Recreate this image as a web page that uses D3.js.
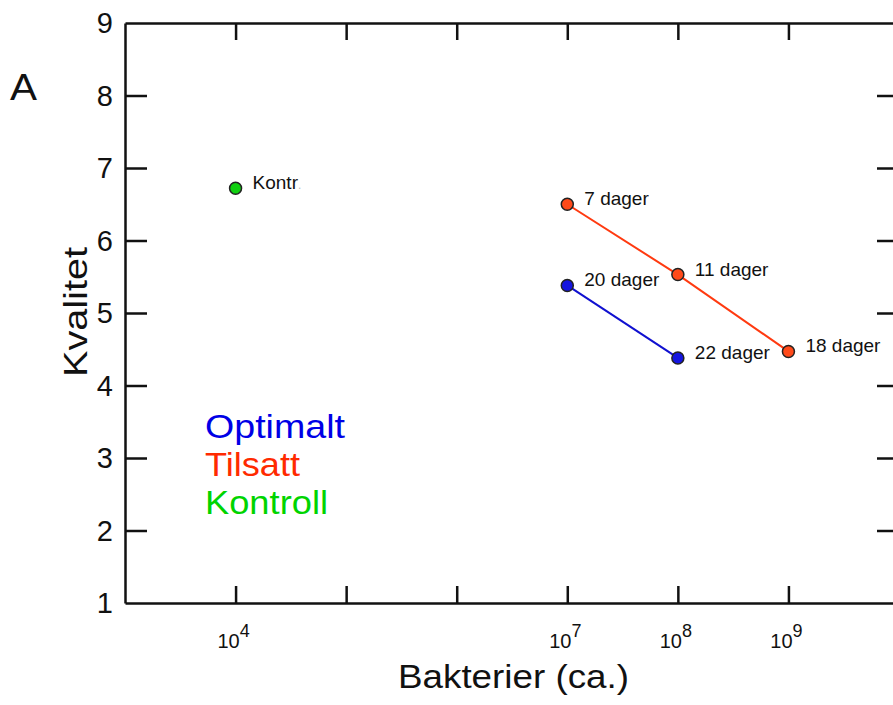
<!DOCTYPE html>
<html>
<head>
<meta charset="utf-8">
<script src="https://cdn.jsdelivr.net/npm/d3@7"></script>
<style>
  body { margin: 0; background: #fff; }
  text { font-family: Arial, "Liberation Sans", sans-serif; }
</style>
</head>
<body>
<div id="chart"></div>
<script>
// Svg Dimensions
var svgWidth = 893;
var svgHeight = 705;

// Plot box edges
var margin = { top: 23, right: -6, bottom: 102, left: 125 };
var chartWidth = svgWidth - margin.left - margin.right;
var chartHeight = svgHeight - margin.top - margin.bottom;

// Data
var optimaltX = [1e7, 1e8];
var optimaltY = [5.38, 4.38];
var optimaltLabels = ["20 dager", "22 dager"];

var tilsattX = [1e7, 1e8, 1e9];
var tilsattY = [6.5, 5.53, 4.47];
var tilsattLabels = ["7 dager", "11 dager", "18 dager"];

var kontrollX = [1e4];
var kontrollY = [6.72];
var kontrollLabels = ["Kontr"];

var xTickValues = [1e4, 1e5, 1e6, 1e7, 1e8, 1e9];
var xTickLabels = [4, null, null, 7, 8, 9];   // exponents shown
var yTickValues = [1, 2, 3, 4, 5, 6, 7, 8, 9];

var legendNames = ["Optimalt", "Tilsatt", "Kontroll"];
var legendColors = ["#0000e6", "#ff2a00", "#00d400"];
var legendLengths = [140, 95, 123];

var svg = d3.select("#chart").append("svg")
    .attr("width", svgWidth)
    .attr("height", svgHeight);

var g = svg.append("g")
    .attr("transform", `translate(${margin.left}, ${margin.top})`);

// Scales
var x = d3.scaleLog().domain([1e3, 1e10]).range([0, chartWidth]);
var y = d3.scaleLinear().domain([1, 9]).range([chartHeight, 0]);

// Axes (ticks point inward)
function styleAxis(sel) {
    sel.selectAll("path").attr("stroke", "#111").attr("stroke-width", 2.5);
    sel.selectAll("line").attr("stroke", "#111").attr("stroke-width", 2.5);
}

var bottomAxis = g.append("g")
    .attr("transform", `translate(0, ${chartHeight})`)
    .call(d3.axisBottom(x).tickValues(xTickValues).tickSize(-17).tickSizeOuter(0).tickFormat(""));
styleAxis(bottomAxis);

var topAxis = g.append("g")
    .call(d3.axisTop(x).tickValues(xTickValues).tickSize(-17).tickSizeOuter(0).tickFormat(""));
styleAxis(topAxis);

var leftAxis = g.append("g")
    .call(d3.axisLeft(y).tickValues(yTickValues.slice(1, -1)).tickSize(-22).tickSizeOuter(0).tickFormat(""));
styleAxis(leftAxis);

var rightAxis = g.append("g")
    .attr("transform", `translate(${chartWidth}, 0)`)
    .call(d3.axisRight(y).tickValues(yTickValues.slice(1, -1)).tickSize(-22).tickSizeOuter(0).tickFormat(""));
styleAxis(rightAxis);

// Y tick labels
g.selectAll(".ylab")
    .data(yTickValues)
    .enter()
    .append("text")
    .attr("x", -12)
    .attr("y", d => y(d))
    .attr("dy", "0.36em")
    .attr("text-anchor", "end")
    .attr("font-size", "29px")
    .attr("fill", "#111")
    .text(d => d);

// X tick labels as 10^n
var xLab = g.selectAll(".xlab")
    .data(xTickValues.map((v, i) => ({ v: v, e: xTickLabels[i] })).filter(d => d.e !== null))
    .enter()
    .append("text")
    .attr("x", d => x(d.v) - 2)
    .attr("y", chartHeight + 45)
    .attr("text-anchor", "middle")
    .attr("fill", "#111")
    .attr("font-size", "20px");
xLab.append("tspan").text("10");
xLab.append("tspan").attr("dy", "-11").attr("font-size", "18px").text(d => d.e);

// Axis titles
svg.append("text")
    .attr("x", 398)
    .attr("y", 688)
    .attr("font-size", "34px")
    .attr("textLength", 231)
    .attr("lengthAdjust", "spacingAndGlyphs")
    .attr("fill", "#111")
    .text("Bakterier (ca.)");

svg.append("text")
    .attr("transform", "translate(87, 377) rotate(-90)")
    .attr("font-size", "34px")
    .attr("textLength", 130)
    .attr("lengthAdjust", "spacingAndGlyphs")
    .attr("fill", "#111")
    .text("Kvalitet");

svg.append("text")
    .attr("x", 10)
    .attr("y", 100)
    .attr("font-size", "36px")
    .attr("textLength", 27)
    .attr("lengthAdjust", "spacingAndGlyphs")
    .attr("fill", "#111")
    .text("A");

// Lines
var line = d3.line().x(d => x(d[0])).y(d => y(d[1]));

g.append("path")
    .datum(optimaltX.map((v, i) => [v, optimaltY[i]]))
    .attr("d", line)
    .attr("fill", "none")
    .attr("stroke", "#1010d0")
    .attr("stroke-width", 2);

g.append("path")
    .datum(tilsattX.map((v, i) => [v, tilsattY[i]]))
    .attr("d", line)
    .attr("fill", "none")
    .attr("stroke", "#ff3a10")
    .attr("stroke-width", 2);

// Points and labels
function drawSeries(xs, ys, labels, fill) {
    var pts = xs.map((v, i) => ({ x: v, y: ys[i], label: labels[i] }));
    g.selectAll(null)
        .data(pts)
        .enter()
        .append("circle")
        .attr("cx", d => x(d.x))
        .attr("cy", d => y(d.y))
        .attr("r", 6)
        .attr("fill", fill)
        .attr("stroke", "#222")
        .attr("stroke-width", 1.5);
    return g.selectAll(null)
        .data(pts)
        .enter()
        .append("text")
        .attr("x", d => x(d.x) + 17)
        .attr("y", d => y(d.y) + 1)
        .attr("font-size", "19px")
        .attr("fill", "#111")
        .text(d => d.label);
}

drawSeries(optimaltX, optimaltY, optimaltLabels, "#1515e0");
drawSeries(tilsattX, tilsattY, tilsattLabels, "#ff4a1a");
drawSeries(kontrollX, kontrollY, kontrollLabels, "#10d010")
    .append("tspan").attr("fill", "#bbb").attr("font-size", "12px").text(".");

// Legend
svg.selectAll(".legend")
    .data(legendNames)
    .enter()
    .append("text")
    .attr("x", 205)
    .attr("y", (d, i) => 438 + i * 38)
    .attr("font-size", "34px")
    .attr("textLength", (d, i) => legendLengths[i])
    .attr("lengthAdjust", "spacingAndGlyphs")
    .attr("fill", (d, i) => legendColors[i])
    .text(d => d);
</script>
</body>
</html>
